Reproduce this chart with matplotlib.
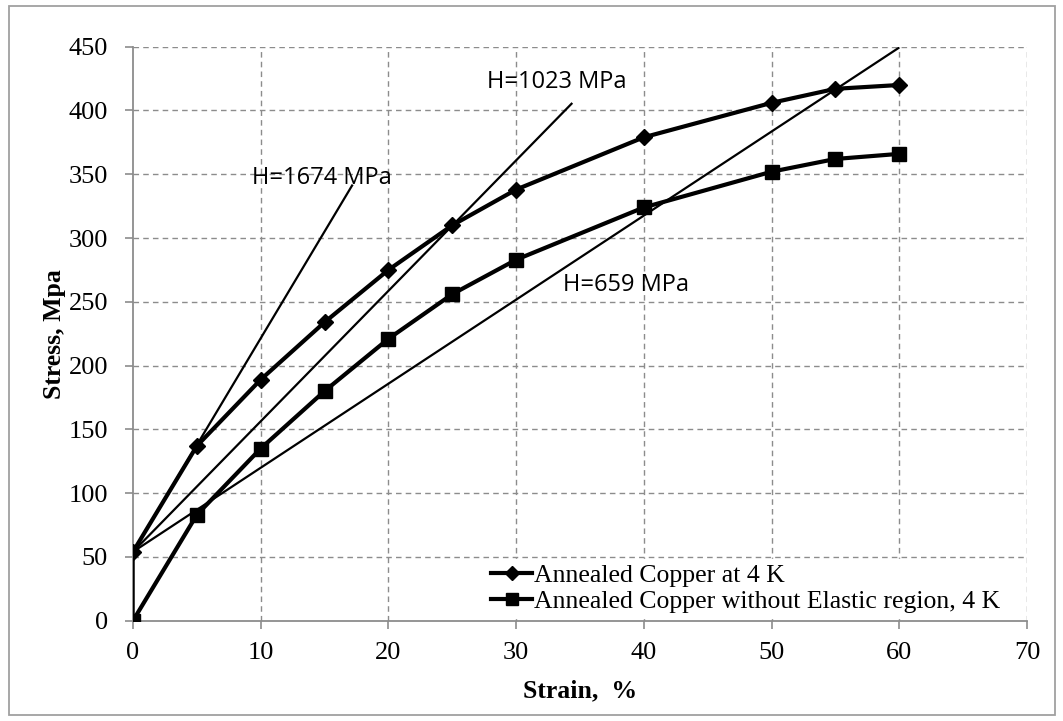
import matplotlib
matplotlib.use("Agg")
import matplotlib.pyplot as plt
from matplotlib.patches import Rectangle
from matplotlib.lines import Line2D

# Stress-strain data for annealed copper at 4 K
strain = [0, 5, 10, 15, 20, 25, 30, 40, 50, 55, 60]
stress_total = [54, 137, 189, 234, 275, 310, 338, 379, 406, 417, 420]
stress_plastic = [0, 83, 135, 180, 221, 256, 283, 324, 352, 362, 366]

# Elastic step at zero strain
elastic_strain = [0, 0]
elastic_stress = [0, 54]

# Hardening-modulus tangent lines (MPa), drawn from the yield point
hardening_moduli = [1674, 1023, 659]
tangent_end_strain = [17.2, 34.4, 60.0]
tangent_labels = ["H=1674 MPa", "H=1023 MPa", "H=659 MPa"]
label_pos = [(9.3, 347), (27.7, 422), (33.7, 263)]

series_labels = ["Annealed Copper at 4 K",
                 "Annealed Copper without Elastic region, 4 K"]

x_ticks = [0, 10, 20, 30, 40, 50, 60, 70]
y_ticks = [0, 50, 100, 150, 200, 250, 300, 350, 400, 450]

serif = ["Liberation Serif", "DejaVu Serif"]
sans = ["Open Sans", "DejaVu Sans"]

fig = plt.figure(figsize=(10.63, 7.21), dpi=100)
ax = fig.add_axes([0.1251, 0.1391, 0.8410, 0.7961])

grid_kw = dict(color="#8c8c8c", lw=1.0, ls=(0, (4, 3)), zorder=0)
for xv in x_ticks[1:]:
    ax.axvline(xv, **grid_kw)
for yv in y_ticks[1:]:
    ax.axhline(yv, **grid_kw)

# Tangent lines
y0 = stress_total[0]
for h, xe in zip(hardening_moduli, tangent_end_strain):
    ax.plot([0, xe], [y0, y0 + h / 100.0 * xe], color="black", lw=1.6,
            solid_capstyle="butt", zorder=3)
for txt, (tx, ty) in zip(tangent_labels, label_pos):
    ax.text(tx, ty, txt, family=sans, fontsize=17, va="center", ha="left",
            zorder=4)

ax.plot(elastic_strain, elastic_stress, color="black", lw=1.8, zorder=3)
ax.plot(strain, stress_total, color="black", lw=3.0, marker="D",
        markersize=8, zorder=5)
ax.plot(strain, stress_plastic, color="black", lw=3.0, marker="s",
        markersize=10, zorder=5)

ax.set_xlim(0, 70)
ax.set_ylim(0, 450)
ax.set_xticks(x_ticks)
ax.set_yticks(y_ticks)
for s in ["top", "right"]:
    ax.spines[s].set_visible(False)
for s in ["left", "bottom"]:
    ax.spines[s].set_color("#8c8c8c")
    ax.spines[s].set_linewidth(1.3)
ax.tick_params(axis="both", direction="out", length=6, width=1.2,
               color="#8c8c8c", labelsize=19)
ax.tick_params(axis="y", pad=12)
ax.tick_params(axis="x", pad=9)
for lab in ax.get_xticklabels() + ax.get_yticklabels():
    lab.set_family(serif)

ax.set_xlabel("Strain,  %", family=serif, fontsize=18.5, fontweight="bold",
              labelpad=11)
ax.set_ylabel("Stress, Mpa", family=serif, fontsize=18.5, fontweight="bold",
              labelpad=2)

handles = [
    Line2D([], [], color="black", lw=3.0, marker="D", markersize=7),
    Line2D([], [], color="black", lw=3.0, marker="s", markersize=9),
]
leg = ax.legend(handles, series_labels, loc="lower left",
                bbox_to_anchor=(0.395, 0.004), frameon=True,
                prop={"family": serif, "size": 18.5}, handlelength=1.6,
                handletextpad=0.05, labelspacing=0.12, borderpad=0.2,
                borderaxespad=0.0, fancybox=False)
leg.get_frame().set_edgecolor("white")
leg.get_frame().set_facecolor("white")
leg.get_frame().set_alpha(1.0)
leg.set_zorder(6)

fig.patches.append(Rectangle((9 / 1063, 6 / 721), 1046 / 1063, 709 / 721,
                             transform=fig.transFigure, fill=False,
                             edgecolor="#a0a0a0", lw=1.3))

fig.savefig("out.png", dpi=100)
